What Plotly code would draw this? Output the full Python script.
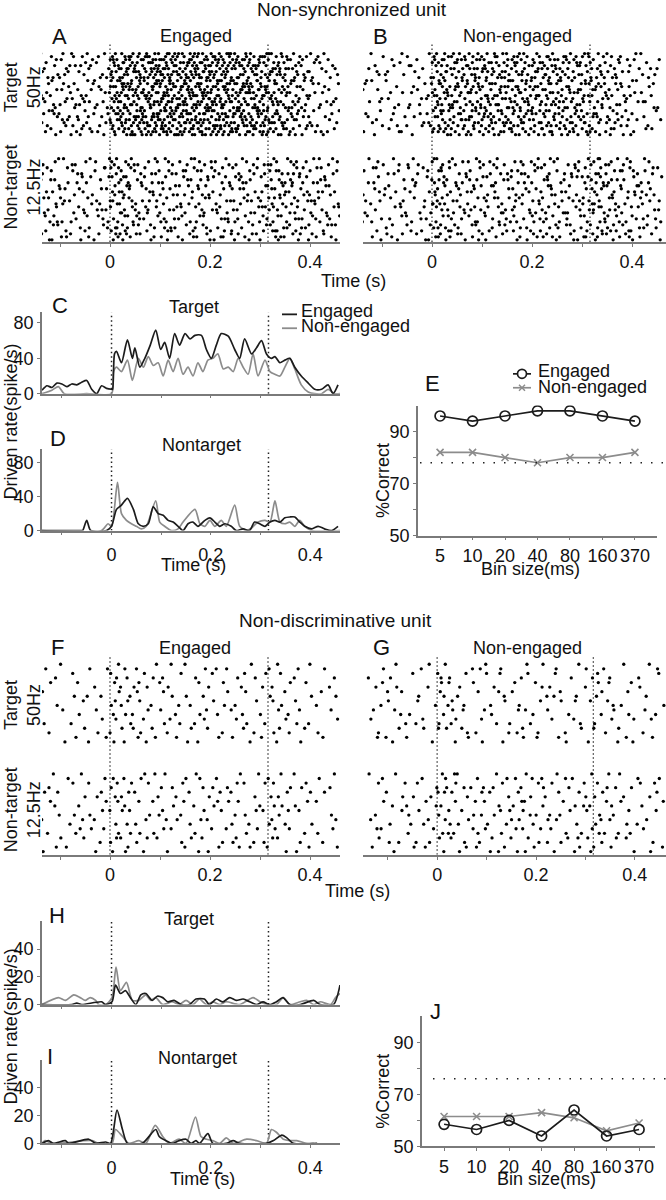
import plotly.graph_objects as go

W, H = 666, 1200
FONT = "Liberation Sans, Arial, Helvetica, sans-serif"
INK = "#111111"
BLACK = "#1c1c1c"
GREY = "#8c8c8c"
AXIS = "#7a7a7a"

STIM_TIMES = [0.0, 0.316]

# ---------------- raster densities (spikes per 20-ms bin, summed over trials) ----------------
RASTER_BIN_START = -0.14
RASTER_BIN_WIDTH = 0.02
A_target = [16, 18, 17, 16, 18, 15, 14, 40, 45, 42, 44, 48, 50, 46, 48, 50, 48, 47, 46, 45, 44, 42, 40,
            36, 32, 28, 22, 16, 14, 12]
A_nontarget = [14, 15, 13, 12, 14, 12, 13, 26, 24, 18, 16, 17, 18, 16, 15, 18, 17, 16, 17, 18, 16, 16, 17,
               22, 20, 20, 17, 16, 15, 14]
B_target = [9, 10, 9, 10, 11, 10, 12, 32, 32, 30, 31, 32, 33, 31, 32, 33, 30, 31, 32, 30, 30, 28, 28,
            24, 22, 20, 16, 12, 10, 9]
B_nontarget = [11, 12, 10, 11, 12, 11, 12, 24, 20, 16, 15, 17, 16, 16, 15, 17, 16, 17, 18, 16, 15, 16, 18,
               24, 20, 18, 17, 15, 14, 12]
F_target = [4, 4, 3, 4, 5, 4, 5, 10, 9, 8, 7, 6, 7, 6, 5, 6, 6, 5, 6, 5, 6, 5, 6, 7, 6, 5, 5, 4, 4, 4]
F_nontarget = [5, 5, 4, 5, 6, 5, 6, 11, 9, 7, 6, 7, 6, 6, 7, 6, 7, 6, 6, 7, 6, 6, 7, 9, 7, 6, 5, 5, 4, 5]
G_target = [5, 5, 6, 5, 4, 5, 4, 10, 8, 6, 5, 6, 5, 6, 5, 6, 5, 5, 6, 5, 5, 5, 6, 7, 6, 5, 5, 4, 4, 4]
G_nontarget = [5, 6, 5, 5, 6, 5, 6, 11, 9, 7, 7, 8, 7, 8, 7, 9, 8, 7, 7, 7, 7, 7, 8, 9, 7, 6, 6, 5, 5, 5]
TRIALS_TOP = 28
TRIALS_BOTTOM = 18

# ---------------- PSTH traces (driven rate, spike/s) ----------------
C_eng_t = [-0.14, -0.13, -0.12, -0.11, -0.10, -0.09, -0.08, -0.07, -0.06, -0.05, -0.04, -0.03, -0.02, -0.01,
           0.0, 0.002, 0.006, 0.010, 0.020, 0.032, 0.042, 0.047, 0.057, 0.067, 0.078, 0.089, 0.099, 0.107,
           0.117, 0.127, 0.137, 0.148, 0.158, 0.168, 0.181, 0.191, 0.201, 0.211, 0.221, 0.235, 0.248, 0.258,
           0.268, 0.282, 0.292, 0.302, 0.312, 0.322, 0.329, 0.339, 0.349, 0.359, 0.369, 0.382, 0.396, 0.409,
           0.423, 0.436, 0.446, 0.456]
C_eng = [4, 9, 7, 12, 11, 8, 11, 10, 13, 15, 5, 0, 9, 6,
         5, 5, 45, 48, 35, 61, 40, 52, 30, 40, 55, 72, 50, 58,
         40, 68, 55, 68, 62, 66, 66, 50, 40, 55, 68, 65, 50, 40,
         62, 45, 52, 60, 45, 40, 42, 35, 38, 40, 30, 20, 12, 5,
         5, 10, 0, 10]
C_non_t = [-0.14, -0.12, -0.107, -0.095, -0.05, 0.0, 0.004, 0.010, 0.020, 0.032, 0.042, 0.054, 0.064, 0.074,
           0.084, 0.094, 0.104, 0.114, 0.124, 0.134, 0.144, 0.154, 0.164, 0.174, 0.184, 0.194, 0.204, 0.214,
           0.225, 0.235, 0.245, 0.255, 0.265, 0.275, 0.285, 0.295, 0.309, 0.319, 0.329, 0.339, 0.349, 0.359,
           0.369, 0.382, 0.396, 0.409, 0.423, 0.436, 0.449, 0.46]
C_non = [0, 4, 8, 0, 0, 0, 25, 30, 25, 38, 15, 40, 30, 42,
         32, 35, 20, 38, 25, 40, 22, 30, 20, 35, 25, 38, 40, 45,
         28, 30, 25, 40, 30, 22, 45, 20, 38, 25, 22, 20, 30, 40,
         28, 10, 2, 0, 0, 5, 0, 0]

D_eng_t = [-0.14, -0.11, -0.06, -0.058, -0.05, -0.042, -0.01, 0.0, 0.010, 0.020, 0.032, 0.044, 0.054, 0.064,
           0.074, 0.084, 0.094, 0.104, 0.114, 0.124, 0.134, 0.144, 0.154, 0.164, 0.174, 0.188, 0.198, 0.208,
           0.218, 0.228, 0.241, 0.251, 0.265, 0.278, 0.288, 0.298, 0.309, 0.319, 0.329, 0.339, 0.349, 0.359,
           0.369, 0.379, 0.389, 0.403, 0.416, 0.429, 0.443, 0.456]
D_eng = [0, 0, 0, 0, 12, 0, 0, 5, 25, 30, 38, 25, 8, 5,
         8, 28, 20, 18, 12, 10, 5, 0, 8, 10, 5, 12, 15, 10,
         5, 8, 5, 0, 2, 0, 10, 8, 5, 10, 12, 10, 15, 16,
         16, 10, 5, 2, 5, 2, 0, 5]
D_non_t = [-0.14, -0.02, -0.007, 0.0, 0.012, 0.020, 0.030, 0.040, 0.050, 0.060, 0.070, 0.089, 0.097, 0.107,
           0.121, 0.134, 0.144, 0.168, 0.178, 0.188, 0.198, 0.208, 0.221, 0.231, 0.248, 0.258, 0.272, 0.282,
           0.295, 0.309, 0.319, 0.329, 0.339, 0.349, 0.359, 0.369, 0.379, 0.389, 0.403, 0.46]
D_non = [0, 0, 8, 5, 57, 20, 12, 8, 5, 2, 5, 35, 10, 5,
         0, 2, 10, 25, 8, 5, 12, 5, 12, 5, 30, 5, 0, 3,
         10, 12, 10, 35, 10, 8, 10, 5, 12, 5, 0, 0]

H_eng_t = [-0.14, -0.08, -0.07, -0.06, -0.02, -0.012, 0.001, 0.008, 0.018, 0.028, 0.038, 0.049, 0.059, 0.069,
           0.082, 0.092, 0.103, 0.113, 0.126, 0.140, 0.157, 0.170, 0.187, 0.197, 0.211, 0.224, 0.238, 0.251,
           0.265, 0.278, 0.292, 0.305, 0.318, 0.332, 0.345, 0.359, 0.380, 0.407, 0.420, 0.447, 0.46]
H_eng = [0, 0, 1, 0, 2, 0, 2, 14, 8, 10, 5, 0, 7, 8,
         3, 6, 5, 2, 3, 0, 0, 4, 4, 0, 4, 2, 5, 3,
         4, 2, 0, 2, 0, 2, 5, 0, 0, 3, 0, 0, 14]
H_non_t = [-0.14, -0.107, -0.093, -0.076, -0.063, -0.053, -0.043, -0.032, -0.026, -0.012, 0.001, 0.009, 0.018,
           0.030, 0.042, 0.055, 0.069, 0.079, 0.089, 0.103, 0.123, 0.136, 0.150, 0.164, 0.177, 0.191, 0.204,
           0.218, 0.231, 0.258, 0.285, 0.299, 0.312, 0.332, 0.346, 0.359, 0.380, 0.393, 0.407, 0.420, 0.441,
           0.451, 0.46]
H_non = [0, 5, 3, 7, 5, 3, 5, 3, 0, 0, 5, 27, 10,
         16, 3, 3, 7, 3, 5, 0, 2, 0, 3, 0, 4, 0, 2,
         0, 2, 0, 5, 2, 0, 0, 5, 0, 2, 3, 0, 2, 0,
         5, 8]

I_eng_t = [-0.14, -0.127, -0.117, -0.093, -0.086, -0.046, -0.032, -0.012, -0.002, 0.011, 0.022, 0.032, 0.062,
           0.089, 0.096, 0.109, 0.123, 0.136, 0.150, 0.160, 0.170, 0.177, 0.194, 0.204, 0.231, 0.245, 0.258,
           0.312, 0.326, 0.343, 0.353, 0.366, 0.414]
I_eng = [0, 2, 0, 2, 0, 3, 0, 1, 0, 24, 10, 0, 0,
         10, 5, 2, 0, 2, 3, 0, 2, 0, 7, 0, 0, 2, 0,
         0, 2, 6, 4, 0, 0]
I_non_t = [-0.14, -0.134, -0.12, -0.039, -0.026, 0.001, 0.008, 0.022, 0.035, 0.055, 0.069, 0.088, 0.103, 0.116,
           0.136, 0.150, 0.169, 0.180, 0.191, 0.204, 0.218, 0.231, 0.245, 0.272, 0.292, 0.312, 0.322, 0.332,
           0.346, 0.359, 0.373, 0.393, 0.407]
I_non = [0, 2, 0, 2, 0, 0, 10, 5, 0, 2, 0, 13, 5, 0,
         3, 0, 19, 5, 3, 2, 0, 4, 0, 3, 2, 0, 10, 8,
         3, 2, 2, 0, 0]

# ---------------- decoding performance ----------------
BIN_LABELS = ["5", "10", "20", "40", "80", "160", "370"]
E_engaged = [96, 94, 96, 98, 98, 96, 94]
E_nonengaged = [82, 82, 80, 78, 80, 80, 82]
E_chance = 78
J_engaged = [58.5, 56.5, 60, 54, 64, 54, 56.5]
J_nonengaged = [61.5, 61.5, 61.5, 63, 61, 56, 59]
J_chance = 76


def dx(a, b):
    return [a / W, b / W]


def dy(top, bot):
    return [1 - bot / H, 1 - top / H]


fig = go.Figure()
layout = {}
shapes = []
annotations = []


def sfx(i):
    return "" if i == 1 else str(i)


def add_axes(i, xdom, xr, ydom, yr, xkw=None, ykw=None):
    s = sfx(i)
    xa = dict(domain=xdom, range=xr, anchor="y" + s, showgrid=False, zeroline=False,
              showline=True, linecolor=AXIS, linewidth=1.5, ticks="outside", ticklen=3,
              tickcolor=AXIS, tickwidth=1.2, tickfont=dict(size=18, color=INK, family=FONT),
              fixedrange=True)
    ya = dict(domain=ydom, range=yr, anchor="x" + s, showgrid=False, zeroline=False,
              showline=True, linecolor=AXIS, linewidth=1.5, ticks="outside", ticklen=3,
              tickcolor=AXIS, tickwidth=1.2, tickfont=dict(size=18, color=INK, family=FONT),
              fixedrange=True)
    if xkw:
        xa.update(xkw)
    if ykw:
        ya.update(ykw)
    layout["xaxis" + s] = xa
    layout["yaxis" + s] = ya


def halton(index, base):
    f, r = 1.0, 0.0
    while index > 0:
        f /= base
        r += f * (index % base)
        index //= base
    return r


def raster_points(counts, n_trials, row_offset, skip):
    """Spread each bin's spike count over the block's trials (deterministic Halton placement)."""
    total = sum(counts)
    cum = [0]
    for c in counts:
        cum.append(cum[-1] + c)
    xs, ys = [], []
    for j in range(total):
        u = halton(j + skip, 2) * total
        v = halton(j + skip, 3)
        b = 0
        while b < len(counts) - 1 and cum[b + 1] <= u:
            b += 1
        frac = (u - cum[b]) / counts[b] if counts[b] else 0.5
        xs.append(RASTER_BIN_START + (b + frac) * RASTER_BIN_WIDTH)
        ys.append(row_offset + min(n_trials - 1, int(v * n_trials)))
    return xs, ys


def stim_lines(i, y0, y1, width=1.3, color="#3a3a3a", dash="1.5px,2.5px"):
    s = sfx(i)
    for t in STIM_TIMES:
        shapes.append(dict(type="line", xref="x" + s, yref="y" + s, x0=t, x1=t, y0=y0, y1=y1,
                           line=dict(color=color, width=width, dash=dash), layer="below"))


raster_x_ticks = dict(tickvals=[-0.1, 0, 0.1, 0.2, 0.3, 0.4], ticktext=["", "0", "", "0.2", "", "0.4"])


def raster_panel(i, target, nontarget, n, gap, xdom, xr, ydom, yr, skip):
    s = sfx(i)
    xt, yt = raster_points(target, n, n + gap, skip)
    xn, yn = raster_points(nontarget, n, 0, skip + 777)
    fig.add_trace(go.Scatter(x=xn + xt, y=yn + yt, mode="markers", xaxis="x" + s, yaxis="y" + s,
                             marker=dict(symbol="circle", size=3.3, color="#000000", line=dict(width=0)),
                             showlegend=False, hoverinfo="skip"))
    add_axes(i, xdom, xr, ydom, yr, xkw=raster_x_ticks, ykw=dict(visible=False))
    stim_lines(i, yr[0], yr[1])


raster_panel(1, A_target, A_nontarget, TRIALS_TOP, 7, dx(42, 340), [-0.136, 0.46], dy(44, 244), [-0.7, 65.3], 37)
raster_panel(2, B_target, B_nontarget, TRIALS_TOP, 7, dx(363, 666), [-0.138, 0.468], dy(44, 244), [-0.7, 65.3], 2111)
raster_panel(6, F_target, F_nontarget, TRIALS_BOTTOM, 6, dx(42, 340), [-0.136, 0.46], dy(662, 862), [-0.7, 42.7], 4391)
raster_panel(7, G_target, G_nontarget, TRIALS_BOTTOM, 6, dx(363, 666), [-0.15, 0.463], dy(662, 862), [-0.7, 42.7], 6607)

# ---- PSTHs ----
psth_x = dict(tickvals=[-0.1, 0, 0.1, 0.2, 0.3, 0.4], ticktext=["", "0", "", "0.2", "", "0.4"])


def psth_panel(i, t_non, v_non, t_eng, v_eng, ydom, ytop, yticks, labels):
    s = sfx(i)
    fig.add_trace(go.Scatter(x=t_non, y=v_non, mode="lines", xaxis="x" + s, yaxis="y" + s,
                             line=dict(color=GREY, width=1.7, shape="spline", smoothing=0.7),
                             showlegend=False, hoverinfo="skip"))
    fig.add_trace(go.Scatter(x=t_eng, y=v_eng, mode="lines", xaxis="x" + s, yaxis="y" + s,
                             line=dict(color=BLACK, width=1.7, shape="spline", smoothing=0.7),
                             showlegend=False, hoverinfo="skip"))
    xkw = dict(psth_x)
    xkw["showticklabels"] = labels
    xkw["ticklabelstandoff"] = 4
    add_axes(i, dx(42, 340), [-0.14, 0.46], ydom, [0, ytop], xkw=xkw,
             ykw=dict(tickvals=yticks))
    stim_lines(i, 0, ytop, width=1.5, color="#222222", dash="1.5px,3px")


psth_panel(3, C_non_t, C_non, C_eng_t, C_eng, dy(315, 397), 92, [0, 40, 80], False)
psth_panel(4, D_non_t, D_non, D_eng_t, D_eng, dy(453, 535), 96, [0, 40, 80], True)
psth_panel(8, H_non_t, H_non, H_eng_t, H_eng, dy(929, 1013), 60, [0, 20, 40], False)
psth_panel(9, I_non_t, I_non, I_eng_t, I_eng, dy(1069, 1153), 60, [0, 20, 40], True)


# ---- decoding panels ----
def perf_panel(i, eng, non, chance, xdom, xr, ydom, chance_x0):
    s = sfx(i)
    pos = list(range(len(BIN_LABELS)))
    fig.add_trace(go.Scatter(x=pos, y=non, mode="lines+markers", xaxis="x" + s, yaxis="y" + s,
                             line=dict(color=GREY, width=1.7),
                             marker=dict(symbol="x-thin-open", size=7, color=GREY, line=dict(width=1.6, color=GREY)),
                             showlegend=False, hoverinfo="skip"))
    fig.add_trace(go.Scatter(x=pos, y=eng, mode="lines+markers", xaxis="x" + s, yaxis="y" + s,
                             line=dict(color=BLACK, width=1.7),
                             marker=dict(symbol="circle-open", size=10, color=BLACK, line=dict(width=1.7, color=BLACK)),
                             showlegend=False, hoverinfo="skip"))
    add_axes(i, xdom, xr, ydom, [50, 100],
             xkw=dict(tickvals=pos, ticktext=BIN_LABELS),
             ykw=dict(tickvals=[50, 60, 70, 80, 90], ticktext=["50", "", "70", "", "90"]))
    shapes.append(dict(type="line", xref="paper", yref="y" + s, x0=chance_x0 / W, x1=1.0, y0=chance, y1=chance,
                       line=dict(color="#222222", width=1.5, dash="1.5px,9px")))


perf_panel(5, E_engaged, E_nonengaged, E_chance, dx(418, 657), [-0.68, 6.68], dy(409, 540), 420)
perf_panel(10, J_engaged, J_nonengaged, J_chance, dx(422, 655), [-0.68, 6.49], dy(1025, 1156), 433)


# ---- text ----
def ann(text, x, y, size=18, angle=0, xanchor="center", color=INK):
    annotations.append(dict(text=text, x=x / W, y=1 - y / H, xref="paper", yref="paper",
                            xanchor=xanchor, yanchor="middle", showarrow=False, textangle=angle,
                            font=dict(size=size, color=color, family=FONT)))


ann("Non-synchronized unit", 352, 10, 19)
ann("A", 59, 37, 22)
ann("Engaged", 196, 36)
ann("B", 380, 37, 22)
ann("Non-engaged", 517, 36)
ann("Target<br>50Hz", 22, 88, angle=-90)
ann("Non-target<br>12.5Hz", 22, 189, angle=-90)
ann("Time (s)", 353, 283)

ann("C", 60, 308, 22)
ann("Target", 194, 310)
ann("D", 58, 442, 22)
ann("Nontarget", 201, 449)
ann("Time (s)", 193, 570)
ann("Driven rate(spike/s)", 11, 425, angle=-90)
ann("Engaged", 299, 314, xanchor="left")
ann("Non-engaged", 299, 329, xanchor="left")
shapes.append(dict(type="line", xref="paper", yref="paper", x0=282 / W, x1=297 / W, y0=1 - 317 / H, y1=1 - 317 / H,
                   line=dict(color=BLACK, width=1.8)))
shapes.append(dict(type="line", xref="paper", yref="paper", x0=282 / W, x1=297 / W, y0=1 - 331 / H, y1=1 - 331 / H,
                   line=dict(color=GREY, width=1.8)))

ann("E", 432, 387, 22)
ann("Engaged", 536, 374, xanchor="left")
ann("Non-engaged", 536, 390, xanchor="left")
shapes.append(dict(type="line", xref="paper", yref="paper", x0=513 / W, x1=531 / W, y0=1 - 377 / H, y1=1 - 377 / H,
                   line=dict(color=BLACK, width=1.7)))
shapes.append(dict(type="circle", xref="paper", yref="paper", x0=517.5 / W, x1=526.5 / W, y0=1 - 381.5 / H,
                   y1=1 - 372.5 / H, line=dict(color=BLACK, width=1.7), fillcolor="white"))
shapes.append(dict(type="line", xref="paper", yref="paper", x0=513 / W, x1=531 / W, y0=1 - 391 / H, y1=1 - 391 / H,
                   line=dict(color=GREY, width=1.7)))
for (ax0, ay0, ax1, ay1) in [(519, 388, 525, 394), (519, 394, 525, 388)]:
    shapes.append(dict(type="line", xref="paper", yref="paper", x0=ax0 / W, x1=ax1 / W, y0=1 - ay0 / H,
                       y1=1 - ay1 / H, line=dict(color=GREY, width=1.5)))
ann("%Correct", 383, 485, angle=-90)
ann("Bin size(ms)", 530, 574)

ann("Non-discriminative unit", 336, 626, 19)
ann("F", 57, 653, 22)
ann("Engaged", 195, 653)
ann("G", 382, 653, 22)
ann("Non-engaged", 527, 653)
ann("Target<br>50Hz", 22, 711, angle=-90)
ann("Non-target<br>12.5Hz", 22, 817, angle=-90)
ann("Time (s)", 357, 898)

ann("H", 57, 923, 22)
ann("Target", 189, 927)
ann("I", 50, 1065, 22)
ann("Nontarget", 197, 1067)
ann("Time (s)", 202, 1189)
ann("Driven rate(spike/s)", 11, 1035, angle=-90)

ann("J", 435, 1020, 22)
ann("%Correct", 383, 1101, angle=-90)
ann("Bin size(ms)", 546, 1189)

fig.update_layout(
    width=W, height=H, autosize=False,
    margin=dict(l=0, r=0, t=0, b=0),
    paper_bgcolor="white", plot_bgcolor="white",
    font=dict(family=FONT, size=18, color=INK),
    showlegend=False,
    shapes=shapes, annotations=annotations,
    **layout,
)

fig.write_html(
    "out.html",
    config={"displayModeBar": False, "responsive": False},
    post_script=("document.documentElement.style.margin='0px';"
                 "document.documentElement.style.overflow='hidden';"
                 "document.body.style.margin='0px';document.body.style.padding='0px';"
                 "document.body.style.overflow='hidden';"),
)
